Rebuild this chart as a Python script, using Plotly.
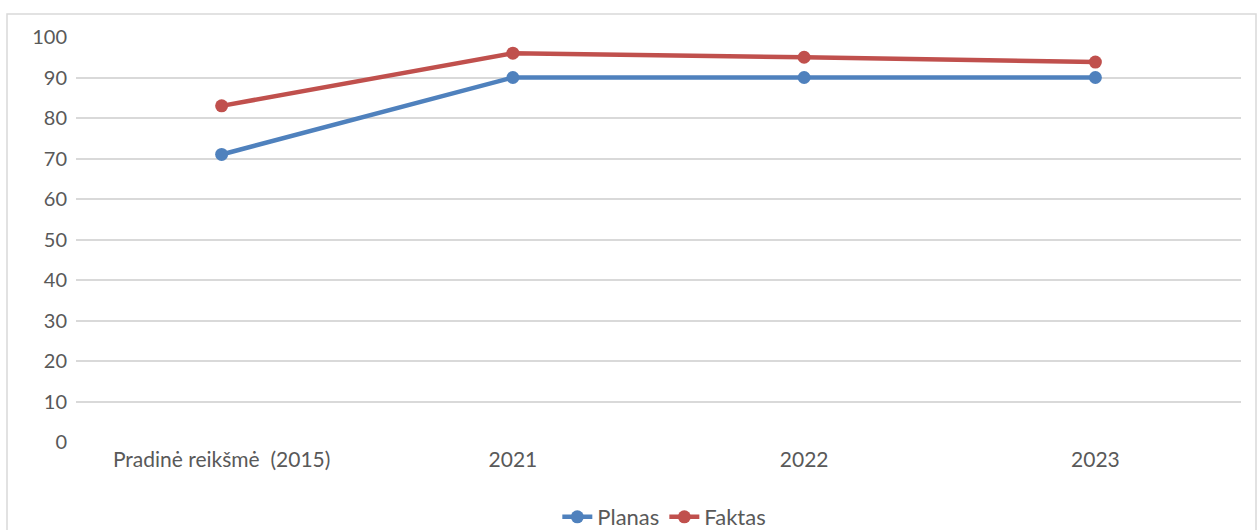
import plotly.graph_objects as go

categories = ["Pradinė reikšmė\u00a0 (2015)", "2021", "2022", "2023"]
planas = [71, 90, 90, 90]
faktas = [83, 96, 95, 93.8]
y_ticks = [0, 10, 20, 30, 40, 50, 60, 70, 80, 90, 100]

BLUE = "#4F81BD"
RED = "#C0504D"
FONT = "Lato, Carlito, 'Liberation Sans', sans-serif"
FS = 20

fig = go.Figure()
fig.add_trace(go.Scatter(x=categories, y=planas, name="Planas", mode="lines+markers",
                         line=dict(color=BLUE, width=4.5), marker=dict(size=13, color=BLUE)))
fig.add_trace(go.Scatter(x=categories, y=faktas, name="Faktas", mode="lines+markers",
                         line=dict(color=RED, width=4.5), marker=dict(size=13, color=RED)))

W, H = 1257, 530
L, R, T, B = 76, 16, 37, 88
pw = W - L - R
ph = H - T - B

def px_x(px):
    return (px - L) / pw

def px_y(py):
    return (H - B - py) / ph

fig.add_shape(type="rect", xref="paper", yref="paper",
              x0=px_x(7), x1=px_x(1256), y0=px_y(540), y1=px_y(14),
              line=dict(color="#D9D9D9", width=1.5), fillcolor="rgba(0,0,0,0)", layer="below")

fig.update_layout(
    width=W, height=H,
    margin=dict(l=L, r=R, t=T, b=B, autoexpand=False),
    paper_bgcolor="white", plot_bgcolor="white",
    font=dict(family=FONT, size=FS, color="#595959"),
    showlegend=True,
    legend=dict(orientation="h", x=0.505, xanchor="center", y=px_y(517), yanchor="middle",
                font=dict(size=22, color="#595959"), tracegroupgap=0),
    xaxis=dict(type="category", range=[-0.5, 3.5], showgrid=False, zeroline=False,
               showline=False, ticks="", ticklabelstandoff=3,
               tickfont=dict(size=21, color="#595959")),
    yaxis=dict(range=[0, 100], tickvals=y_ticks, showgrid=True, gridcolor="#D9D9D9",
               gridwidth=1.5, zeroline=False, showline=False, ticks="",
               ticklabelstandoff=8, tickfont=dict(size=FS, color="#595959")),
)

fig.write_html("out.html", config={"displayModeBar": False},
               post_script="document.body.style.margin='0';document.body.style.overflow='hidden';")
